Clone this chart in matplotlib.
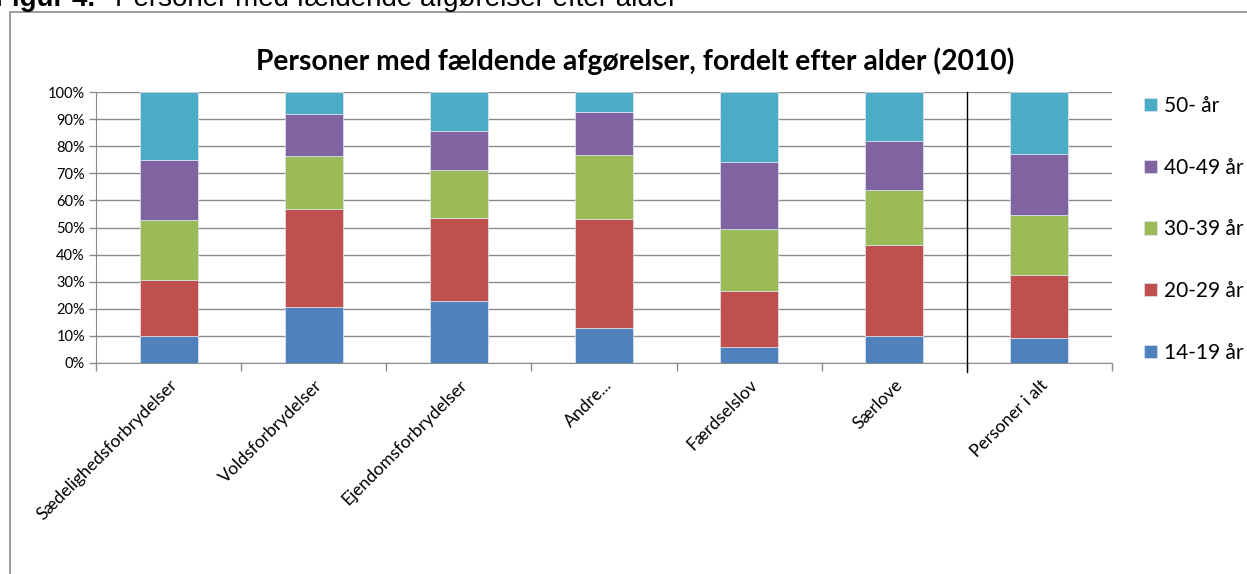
import numpy as np
import matplotlib
matplotlib.use('Agg')
import matplotlib.pyplot as plt
from matplotlib.patches import Rectangle

kategorier = ['Sædelighedsforbrydelser', 'Voldsforbrydelser', 'Ejendomsforbrydelser',
              'Andre...', 'Færdselslov', 'Særlove', 'Personer i alt']
aldre = ['14-19 år', '20-29 år', '30-39 år', '40-49 år', '50- år']

# andele i procent, læst af figuren
a14_19 = [10.1, 20.8, 22.9, 12.9, 5.9, 10.1, 9.1]
a20_29 = [20.5, 36.1, 30.7, 40.3, 20.5, 33.3, 23.5]
a30_39 = [22.3, 19.5, 17.6, 23.6, 23.0, 20.3, 22.1]
a40_49 = [22.0, 15.5, 14.5, 15.9, 24.9, 18.3, 22.5]
a50 = [25.1, 8.1, 14.3, 7.3, 25.7, 18.0, 22.8]

farver = ['#4F81BD', '#C0504D', '#9BBB59', '#8064A2', '#4BACC6']
serier = [a14_19, a20_29, a30_39, a40_49, a50]

fig = plt.figure(figsize=(12.47, 5.74), dpi=100)
ax = fig.add_axes([96/1247, 1 - 363/574, 1016/1247, 271/574])

x = np.arange(len(kategorier))
bund = np.zeros(len(kategorier))
handles = []
for vals, farve, navn in zip(serier, farver, aldre):
    b = ax.bar(x, np.array(vals) / 100, 0.4, bottom=bund, color=farve,
               edgecolor='#dde6f0', linewidth=0.5, label=navn, zorder=3)
    handles.append(b)
    bund += np.array(vals) / 100

ax.set_xlim(-0.5, len(kategorier) - 0.5)
ax.set_ylim(0, 1)
ax.set_yticks(np.arange(0, 1.01, 0.1))
ax.set_yticklabels([f'{int(round(v * 100))}%' for v in np.arange(0, 1.01, 0.1)],
                   fontsize=10.5, family='Lato')
ax.yaxis.grid(True, color='#8c8c8c', linewidth=1, zorder=0)
ax.set_axisbelow(True)

ax.set_xticks(np.arange(-0.5, len(kategorier), 1.0))
ax.set_xticklabels([])
ax.set_xticks(x, minor=True)
ax.set_xticklabels(kategorier, minor=True, rotation=45, ha='right',
                   rotation_mode='anchor', fontsize=12.6, family='Lato')
ax.tick_params(axis='x', which='minor', length=0, pad=10)
ax.tick_params(axis='x', which='major', length=6, color='#8c8c8c', width=1)
ax.tick_params(axis='y', length=5, color='#8c8c8c', width=1, pad=3)

for s in ['top', 'right']:
    ax.spines[s].set_visible(False)
for s in ['left', 'bottom']:
    ax.spines[s].set_color('#8c8c8c')

# skillelinje foran "Personer i alt"
ax.plot([5.5, 5.5], [-0.035, 1.0], color='black', linewidth=1, clip_on=False, zorder=4)

fig.text(635/1247, 1 - 61/574,
         'Personer med fældende afgørelser, fordelt efter alder (2010)',
         fontsize=20.3, fontweight='bold', family='Lato', ha='center', va='center')

leg = ax.legend(handles[::-1], aldre[::-1], loc='upper left',
                bbox_to_anchor=((1144 - 96) / 1016, (363 - 96) / 271),
                frameon=False, prop={'family': 'Lato', 'size': 15},
                labelspacing=2.0, borderpad=0, borderaxespad=0,
                handlelength=0.62, handleheight=0.62, handletextpad=0.32)

# ramme rundt om figuren
fig.patches.append(Rectangle((10/1247, -0.02), 1.1, 1 - 12/574 + 0.02,
                             transform=fig.transFigure, fill=False,
                             edgecolor='#8c8c8c', linewidth=1.2))

fig.text(95/1247, 1 - 6/574, 'Figur 4.', fontsize=20, fontweight='bold',
         family='Liberation Sans', va='baseline', ha='right')
fig.text(115/1247, 1 - 6/574, 'Personer med fældende afgørelser efter alder',
         fontsize=20, family='Liberation Sans', va='baseline')

fig.savefig('out.png', dpi=100)
